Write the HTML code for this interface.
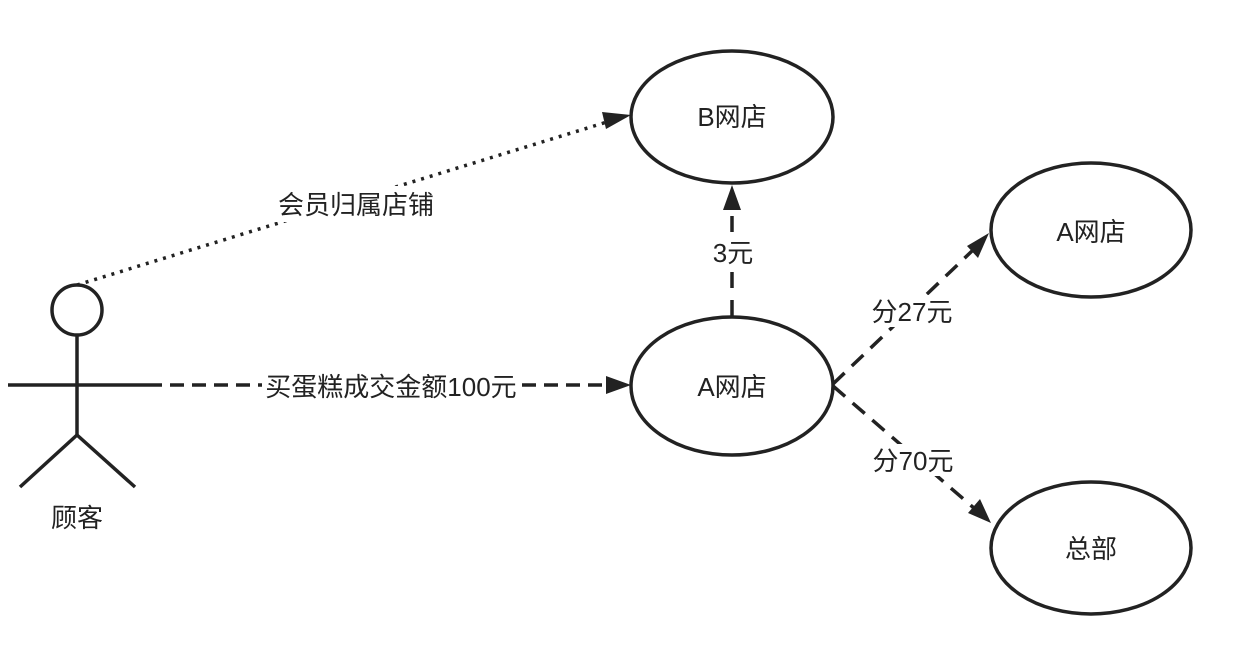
<!DOCTYPE html>
<html><head><meta charset="utf-8"><style>
html,body{margin:0;padding:0;background:#fff;width:1252px;height:654px;overflow:hidden}
text{font-family:"Liberation Sans","Noto Sans CJK SC",sans-serif;font-size:26px;fill:#222}
</style></head><body>
<svg width="1252" height="654" viewBox="0 0 1252 654" xmlns="http://www.w3.org/2000/svg">
<g stroke="#222" stroke-width="3.5" fill="none">
<ellipse cx="77" cy="310" rx="25" ry="25" fill="#fff"/>
<line x1="77" y1="335" x2="77" y2="435"/>
<line x1="8" y1="385" x2="148" y2="385"/>
<line x1="77" y1="435" x2="20" y2="487"/>
<line x1="77" y1="435" x2="135" y2="487"/>
<ellipse cx="732" cy="117" rx="101" ry="66"/>
<ellipse cx="732" cy="386" rx="101" ry="69"/>
<ellipse cx="1091" cy="230" rx="100" ry="67"/>
<ellipse cx="1091" cy="548" rx="100" ry="66"/>
<line x1="77" y1="285" x2="607" y2="122" stroke-dasharray="3 6"/>
<line x1="148" y1="385" x2="608" y2="385" stroke-dasharray="14 8"/>
<line x1="732" y1="316" x2="732" y2="208" stroke-dasharray="16 12"/>
<line x1="833" y1="384" x2="972" y2="251" stroke-dasharray="16 10"/>
<line x1="833" y1="386" x2="975" y2="509" stroke-dasharray="16 10"/>
</g>
<g fill="#222">
<polygon points="631,115 606,129 602,112"/>
<polygon points="631,385 606,376 606,394"/>
<polygon points="732,185 723,210 741,210"/>
<polygon points="989,233 967,246 978,258"/>
<polygon points="991,523 968,513 980,499"/>
</g>
<g text-anchor="middle">
<rect x="272" y="186" width="168" height="36" fill="#fff"/>
<text x="356" y="214">会员归属店铺</text>
<rect x="262" y="370" width="258" height="32" fill="#fff"/>
<text x="391" y="396">买蛋糕成交金额100元</text>
<rect x="706" y="236" width="54" height="32" fill="#fff"/>
<text x="733" y="262">3元</text>
<rect x="866" y="295" width="94" height="32" fill="#fff"/>
<text x="912" y="321">分27元</text>
<rect x="866" y="444" width="94" height="32" fill="#fff"/>
<text x="913" y="470">分70元</text>
<text x="732" y="126">B网店</text>
<text x="732" y="396">A网店</text>
<text x="1091" y="241">A网店</text>
<text x="1091" y="558">总部</text>
<text x="77" y="527">顾客</text>
</g>
</svg>
</body></html>
